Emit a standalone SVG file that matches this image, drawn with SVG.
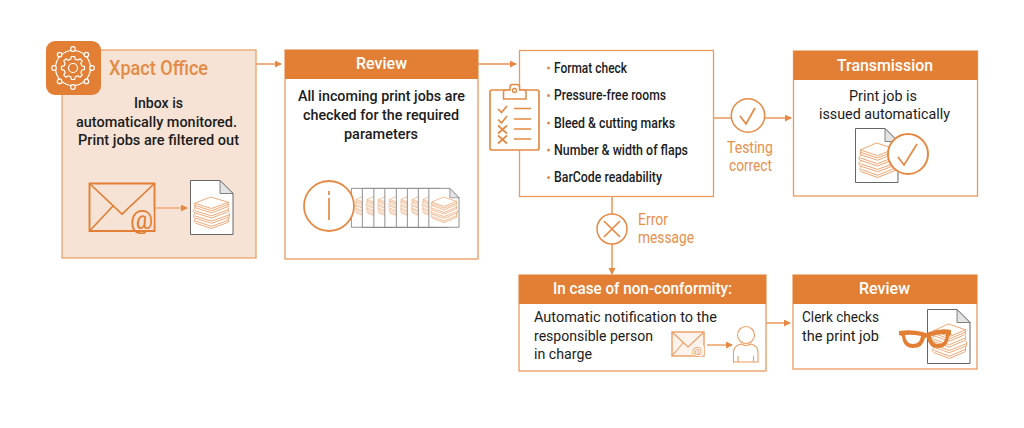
<svg xmlns="http://www.w3.org/2000/svg" xmlns:xlink="http://www.w3.org/1999/xlink" width="1024" height="428" viewBox="0 0 1024 428">
<style>
text{font-family:Roboto,"Liberation Sans",sans-serif}
.t{font-size:15px;font-weight:500;fill:#1c1c1c}
.r{font-size:15px;font-weight:400;fill:#1c1c1c}
.l{font-size:14px;font-weight:500;fill:#1c1c1c}
.h{font-size:17px;font-weight:500;fill:#fff}
.o{font-size:16px;fill:#e98f4c}
.box{fill:#fff;stroke:#eb9a5f;stroke-width:1.3}
.head{fill:#e27f35}
.line{fill:none;stroke:#e98f4c;stroke-width:1.4}
.ic{fill:none;stroke:#e58a44;stroke-width:1.7}
.bk{fill:none;stroke:#ec9d63;stroke-width:.8}
</style>
<defs>
<marker id="a" markerWidth="8" markerHeight="8" refX="6" refY="3.5" orient="auto" markerUnits="userSpaceOnUse"><path d="M0 0L7 3.500L0 7Z" fill="#e58a44"/></marker>
<g id="books">
<path class="bk" d="M2 6L16 0L32 5L17 11ZM2 6V10L17 15L32 9V5M2 8L17 13L32 7M3 10Q-1 13 2 15L17 20L32 14V10M2 13L17 18L32 12M3 15Q-1 18 2 20L17 25L33 19V15M2 18L17 23L33 17M3 20Q0 23 3 25L17 30L32 24V19M3 23L17 28L32 22"/>
</g>
<g id="doc"><path d="M.5 .5H30L43 13.500V54.500H.5Z" fill="#fff" stroke="#666" stroke-width="1"/><path d="M30 .5V13.500H43Z" fill="#e4e4e4" stroke="#666" stroke-width=".8"/></g>
<path id="tooth" d="M-2.200 -8.800L-1.600 -11.500H1.600L2.200 -8.800A9 9 0 0 1 4.670 -7.780" fill="none" stroke="#fff" stroke-width="1.200"/>
</defs>

<g id="connectors">
<path class="line" marker-end="url(#a)" d="M256 64H281"/>
<path class="line" marker-end="url(#a)" d="M478 64H516"/>
<path class="line" d="M713 118H731"/>
<path class="line" marker-end="url(#a)" d="M765 118H791"/>
<path class="line" d="M612 196V214"/>
<path class="line" marker-end="url(#a)" d="M612 244V274"/>
<path class="line" marker-end="url(#a)" d="M766 323H790"/>
</g>

<g id="xpact-office">
<rect x="62" y="50" width="194" height="208" fill="#f6e3d6" stroke="#eda36b" stroke-width="1.300"/>
<rect x="46" y="41" width="55" height="54" rx="9" fill="#e27f35"/>
<g transform="translate(73 68)">
<circle r="17.500" fill="none" stroke="#fff" stroke-width="1.200"/>
<g fill="#e27f35" stroke="#fff" stroke-width="1.200">
<circle cx="0" cy="-19" r="2.300"/><circle cx="13.400" cy="-13.400" r="2.300"/><circle cx="19" cy="0" r="2.300"/><circle cx="13.400" cy="13.400" r="2.300"/><circle cx="0" cy="19" r="2.300"/><circle cx="-13.400" cy="13.400" r="2.300"/><circle cx="-19" cy="0" r="2.300"/><circle cx="-13.400" cy="-13.400" r="2.300"/>
</g>
<use href="#tooth"/><use href="#tooth" transform="rotate(45)"/><use href="#tooth" transform="rotate(90)"/><use href="#tooth" transform="rotate(135)"/><use href="#tooth" transform="rotate(180)"/><use href="#tooth" transform="rotate(225)"/><use href="#tooth" transform="rotate(270)"/><use href="#tooth" transform="rotate(315)"/>
<circle r="4.500" fill="none" stroke="#fff" stroke-width="1.200"/>
</g>
<text x="109" y="75" font-size="20" font-weight="500" fill="#e58a44" textLength="99" lengthAdjust="spacingAndGlyphs">Xpact Office</text>
<text class="t" x="134" y="108" textLength="49" lengthAdjust="spacingAndGlyphs">Inbox is</text>
<text class="t" x="76" y="127" textLength="161" lengthAdjust="spacingAndGlyphs">automatically monitored.</text>
<text class="t" x="78" y="145" textLength="161" lengthAdjust="spacingAndGlyphs">Print jobs are filtered out</text>
<path d="M89.500 183.500H154.500V231H89.500Z" fill="none" stroke="#e27f35" stroke-width="1.900"/>
<path d="M89.500 183.500L122 214L154.500 183.500M89.500 231L113 206" fill="none" stroke="#e27f35" stroke-width="1.700"/>
<rect x="128" y="207" width="25.500" height="23" rx="5" fill="#f6e3d6"/>
<text x="130" y="229" font-size="26" fill="#e27f35">@</text>
<path d="M155 208H187" fill="none" stroke="#eea66f" stroke-width="1.400" marker-end="url(#a)"/>
<use href="#doc" transform="translate(190 180)"/>
<use href="#books" transform="translate(192.500 197) scale(1.120 1.050)"/>
</g>

<g id="review">
<rect class="box" x="285" y="50" width="193" height="209"/>
<rect class="head" x="285" y="50" width="193" height="29"/>
<text class="h" x="356" y="69" textLength="51" lengthAdjust="spacingAndGlyphs">Review</text>
<text class="t" x="298" y="101" textLength="167" lengthAdjust="spacingAndGlyphs">All incoming print jobs are</text>
<text class="t" x="303" y="120" textLength="156" lengthAdjust="spacingAndGlyphs">checked for the required</text>
<text class="t" x="344" y="139" textLength="74" lengthAdjust="spacingAndGlyphs">parameters</text>
<g transform="translate(351 188) scale(.71 .72)"><use href="#doc"/><use href="#books" x="5" y="10"/></g>
<g transform="translate(362 188) scale(.71 .72)"><use href="#doc"/><use href="#books" x="5" y="10"/></g>
<g transform="translate(373.500 188) scale(.71 .72)"><use href="#doc"/><use href="#books" x="5" y="10"/></g>
<g transform="translate(384.500 188) scale(.71 .72)"><use href="#doc"/><use href="#books" x="5" y="10"/></g>
<g transform="translate(396 188) scale(.71 .72)"><use href="#doc"/><use href="#books" x="5" y="10"/></g>
<g transform="translate(407 188) scale(.71 .72)"><use href="#doc"/><use href="#books" x="5" y="10"/></g>
<g transform="translate(418 188) scale(.71 .72)"><use href="#doc"/><use href="#books" x="5" y="10"/></g>
<g transform="translate(428.500 188) scale(.71 .72)"><use href="#doc"/></g>
<use href="#books" transform="translate(430 197) scale(.83 .85)"/>
<circle cx="329" cy="206" r="25" fill="#fff" stroke="#e58a44" stroke-width="1.800"/>
<path class="ic" d="M329 191V195M329 198V220"/>
</g>

<g id="checks">
<rect class="box" x="519.500" y="50.500" width="194" height="146"/>
<circle cx="548.500" cy="68" r="1.500" fill="#e58a44"/><circle cx="548.500" cy="95.500" r="1.500" fill="#e58a44"/><circle cx="548.500" cy="123" r="1.500" fill="#e58a44"/><circle cx="548.500" cy="150" r="1.500" fill="#e58a44"/><circle cx="548.500" cy="177.500" r="1.500" fill="#e58a44"/>
<text class="l" x="554" y="73" textLength="73" lengthAdjust="spacingAndGlyphs">Format check</text>
<text class="l" x="554" y="100" textLength="112" lengthAdjust="spacingAndGlyphs">Pressure-free rooms</text>
<text class="l" x="554" y="128" textLength="121" lengthAdjust="spacingAndGlyphs">Bleed &amp; cutting marks</text>
<text class="l" x="554" y="155" textLength="134" lengthAdjust="spacingAndGlyphs">Number &amp; width of flaps</text>
<text class="l" x="554" y="182" textLength="108" lengthAdjust="spacingAndGlyphs">BarCode readability</text>
<rect x="490" y="90" width="49" height="60" rx="2" fill="#fff" stroke="#e58a44" stroke-width="1.700"/>
<path d="M503.500 99V92Q503.500 90 506 90H510V87Q510 84.500 512.500 84.500H517Q519.500 84.500 519.500 87V90H523.500Q526 90 526 92V99Z" fill="#fff" stroke="#e58a44" stroke-width="1.500"/>
<circle cx="514.500" cy="90.500" r="2" fill="none" stroke="#e58a44" stroke-width="1.300"/>
<path class="ic" d="M514 108.500H531M514 119H531M514 129H531M514 139H531M498 109L501.500 112.500L507 106M498 119.500L501.500 123L507 116M498 125.500L507 133.500M507 125.500L498 133.500M498 135.500L507 143.500M507 135.500L498 143.500"/>
</g>

<g id="testing-correct">
<circle cx="748" cy="115.500" r="16.700" fill="#fff" stroke="#e58a44" stroke-width="1.500"/>
<path class="ic" stroke-width="1.400" d="M740 116L746 124L755 108"/>
<text class="o" x="727" y="153" textLength="46" lengthAdjust="spacingAndGlyphs">Testing</text>
<text class="o" x="729" y="171" textLength="43" lengthAdjust="spacingAndGlyphs">correct</text>
</g>

<g id="transmission">
<rect class="box" x="793.500" y="51" width="184" height="145"/>
<rect class="head" x="793.500" y="51" width="184" height="29"/>
<text class="h" x="837" y="71" textLength="96" lengthAdjust="spacingAndGlyphs">Transmission</text>
<text class="r" x="849" y="101" textLength="68" lengthAdjust="spacingAndGlyphs">Print job is</text>
<text class="r" x="819" y="119" textLength="131" lengthAdjust="spacingAndGlyphs">issued automatically</text>
<use href="#doc" transform="translate(855 128)"/>
<use href="#books" transform="translate(858 143) scale(1.150)"/>
<circle cx="908" cy="154" r="20" fill="#fff" stroke="#e58a44" stroke-width="2"/>
<path class="ic" d="M898 157L904 165L917 144"/>
</g>

<g id="error-message">
<circle cx="612" cy="229" r="15" fill="#fff" stroke="#e58a44" stroke-width="1.500"/>
<path class="ic" stroke-width="1.400" d="M604 221L620 237M620 221L604 237"/>
<text class="o" x="638" y="225" textLength="30" lengthAdjust="spacingAndGlyphs">Error</text>
<text class="o" x="638" y="243" textLength="56" lengthAdjust="spacingAndGlyphs">message</text>
</g>

<g id="non-conformity">
<rect class="box" x="519" y="275" width="247" height="96"/>
<rect class="head" x="519" y="275" width="247" height="29"/>
<text class="h" x="553" y="294" textLength="179" lengthAdjust="spacingAndGlyphs">In case of non-conformity:</text>
<text class="r" x="534" y="322" textLength="183" lengthAdjust="spacingAndGlyphs">Automatic notification to the</text>
<text class="r" x="534" y="341" textLength="119" lengthAdjust="spacingAndGlyphs">responsible person</text>
<text class="r" x="534" y="359" textLength="58" lengthAdjust="spacingAndGlyphs">in charge</text>
<rect x="672" y="332" width="32" height="24" fill="#fdf3ec" stroke="#ec9d63" stroke-width="1.400"/>
<path d="M672 332L688 347L704 332M672 356L683 343" fill="none" stroke="#ec9d63" stroke-width="1.100"/>
<rect x="692" y="345" width="12" height="11" rx="2" fill="#fdf3ec"/>
<text x="692" y="355" font-size="11" fill="#ec9d63">@</text>
<path d="M707 345H732" fill="none" stroke="#e58a44" stroke-width="1.200" marker-end="url(#a)"/>
<circle cx="746" cy="335" r="8.500" fill="#fff" stroke="#ec9d63" stroke-width="1.100"/>
<path d="M733.500 362V352Q733.500 346 741 344Q746 347 751 344Q758 346 758 352V362ZM738 362V356M753.500 362V356" fill="#fff" stroke="#ec9d63" stroke-width="1.100"/>
</g>

<g id="review-clerk">
<rect class="box" x="793" y="275" width="184" height="94"/>
<rect class="head" x="793" y="275" width="184" height="29"/>
<text class="h" x="859" y="294" textLength="51" lengthAdjust="spacingAndGlyphs">Review</text>
<text class="r" x="802" y="322" textLength="77" lengthAdjust="spacingAndGlyphs">Clerk checks</text>
<text class="r" x="802" y="341" textLength="77" lengthAdjust="spacingAndGlyphs">the print job</text>
<use href="#doc" transform="translate(927 309)"/>
<use href="#books" transform="translate(931 324) scale(1.080 1.150)"/>
<path fill-rule="evenodd" d="M899 331Q911 329 923 332Q926 334 929 332Q941 328 951 330V335L949 336Q948 348 938 348Q929 348 927 338Q926 337 925 338Q923 348 913 348Q903 348 902 336L899 335ZM905 335Q906 344 913 344Q920 344 921 336Q912 334 905 335ZM931 336Q932 344 938 344Q946 344 946 334Q938 334 931 336Z" fill="#e27f35"/>
</g>
</svg>
